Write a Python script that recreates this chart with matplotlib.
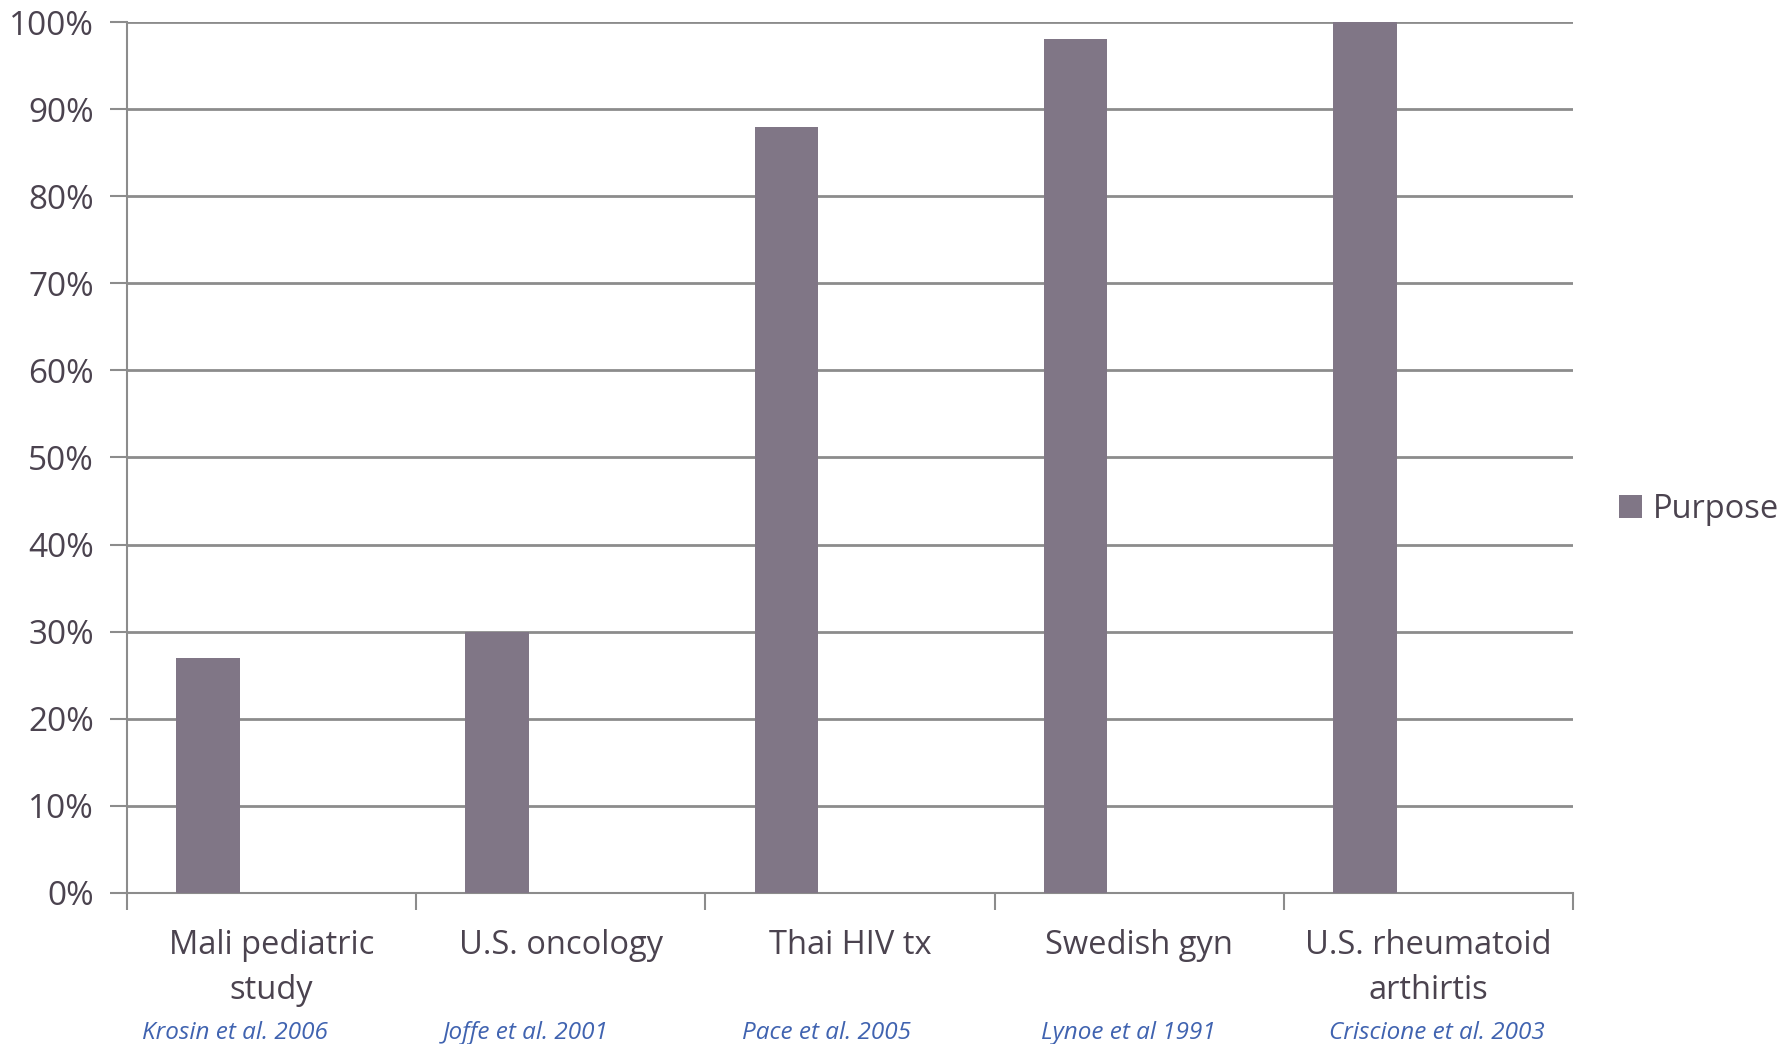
"""
Bar chart: share of participants who understood the study purpose.
"""

import matplotlib.pyplot as plt
from matplotlib.patches import Patch
from matplotlib.ticker import FixedLocator, PercentFormatter


CATEGORIES = [
    "Mali pediatric\nstudy",
    "U.S. oncology",
    "Thai HIV tx",
    "Swedish gyn",
    "U.S. rheumatoid\narthirtis",
]
PURPOSE = [27, 30, 88, 98, 100]
CITATIONS = [
    "Krosin et al. 2006",
    "Joffe et al. 2001",
    "Pace et al. 2005",
    "Lynoe et al 1991",
    "Criscione et al. 2003",
]
# horizontal placement of each citation, in category units
CITATION_X = [-0.127, 0.88, 1.92, 2.963, 4.03]

BAR_COLOR = "#807686"
GRID_COLOR = "#8c8c8c"
TEXT_COLOR = "#4b434f"
CITE_COLOR = "#4063b0"
FONT = "Open Sans"


def main() -> None:
    plt.rcParams["font.family"] = [FONT, "DejaVu Sans"]

    fig = plt.figure(figsize=(17.92, 10.44), dpi=100)
    ax = fig.add_axes([0.0709, 0.1447, 0.8069, 0.8342])

    positions = range(len(CATEGORIES))
    bar_x = [p - 0.22 for p in positions]
    ax.bar(bar_x, PURPOSE, width=0.22, color=BAR_COLOR, zorder=3)

    ax.set_xlim(-0.5, len(CATEGORIES) - 0.5)
    ax.set_ylim(0, 100)

    ax.yaxis.set_major_locator(FixedLocator(range(0, 101, 10)))
    ax.yaxis.set_major_formatter(PercentFormatter(decimals=0))
    ax.grid(axis="y", color=GRID_COLOR, linewidth=2, zorder=0)

    # category names centred, ticks on the boundaries
    ax.set_xticks(list(positions))
    ax.set_xticklabels(CATEGORIES, fontsize=23.5, color=TEXT_COLOR,
                       linespacing=1.47)
    ax.tick_params(axis="x", which="major", length=0, pad=26)
    ax.set_xticks([p - 0.5 for p in range(len(CATEGORIES) + 1)], minor=True)
    ax.tick_params(axis="x", which="minor", length=12, width=1.5,
                   color=GRID_COLOR)
    ax.tick_params(axis="y", length=12, width=1.5, color=GRID_COLOR,
                   labelsize=24, labelcolor=TEXT_COLOR, pad=12)

    for side in ("top", "right"):
        ax.spines[side].set_visible(False)
    for side in ("left", "bottom"):
        ax.spines[side].set_color(GRID_COLOR)
        ax.spines[side].set_linewidth(1.5)

    for x, cite in zip(CITATION_X, CITATIONS):
        ax.text(x, -0.161, cite, transform=ax.get_xaxis_transform(),
                ha="center", va="center", fontsize=17.5, style="italic",
                color=CITE_COLOR)

    handle = Patch(facecolor=BAR_COLOR, label="Purpose")
    fig.legend(handles=[handle], loc="center left",
               bbox_to_anchor=(0.887, 0.512), frameon=False, fontsize=23.5,
               handlelength=0.7, handleheight=0.7, handletextpad=0.35,
               labelcolor=TEXT_COLOR)

    fig.savefig("out.png", dpi=100)
    plt.close(fig)


if __name__ == "__main__":
    main()
